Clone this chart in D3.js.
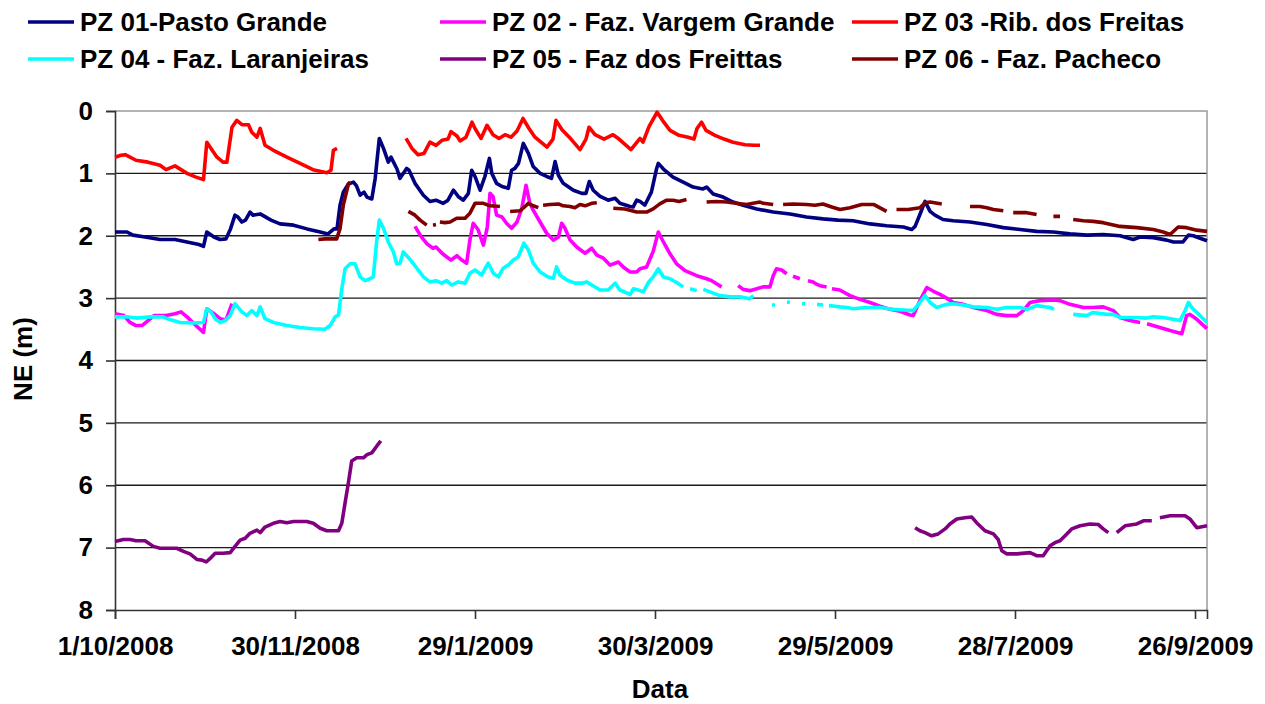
<!DOCTYPE html>
<html>
<head>
<meta charset="utf-8">
<script src="https://cdn.jsdelivr.net/npm/d3@7"></script>
<style>
  body { margin: 0; background: #fff; }
  svg { display: block; font-family: "Liberation Sans", Arial, sans-serif; font-weight: bold; }
</style>
</head>
<body>
<svg id="chart" width="1265" height="704"></svg>
<script>
// Days counted from 1/10/2008, NE (m) values; null = missing reading (gap)
const startDate = new Date(2008, 9, 1);
const tickDays = [0, 60, 120, 180, 240, 300, 360];
const yTicks = [0, 1, 2, 3, 4, 5, 6, 7, 8];

const seriesNames = ["PZ 01-Pasto Grande", "PZ 02 - Faz. Vargem Grande", "PZ 03 -Rib. dos Freitas",
  "PZ 04 - Faz. Laranjeiras", "PZ 05 - Faz dos Freittas", "PZ 06 - Faz. Pacheco"];
const seriesColors = ["#000080", "#ff00ff", "#ff0000", "#00ffff", "#800080", "#800000"];

const pz01 = [[0,1.94],[4,1.94],[6,1.99],[10,2.02],[15,2.06],[20,2.06],[24,2.1],[28,2.14],[29.5,2.17],[30.6,1.94],[33,2.02],[35,2.06],[37,2.05],[38.5,1.89],[40,1.67],[41,1.7],[42.3,1.78],[43.5,1.75],[45,1.62],[46,1.67],[48.4,1.65],[52,1.75],[55,1.81],[59.5,1.83],[64,1.89],[68.4,1.94],[71,1.97],[73,1.89],[74,1.89],[75,1.51],[76.1,1.3],[77.8,1.17],[79.5,1.14],[80.5,1.2],[81.7,1.35],[83,1.3],[84,1.38],[85.6,1.41],[86.7,1.09],[88.1,0.44],[89.5,0.6],[91.1,0.82],[92,0.74],[94,0.93],[95,1.08],[97.2,0.92],[98,0.95],[100,1.16],[102.8,1.35],[105,1.45],[107,1.43],[109.4,1.48],[111,1.43],[112.8,1.27],[114.4,1.37],[116.1,1.43],[117.8,1.32],[118.9,0.95],[120,1.05],[121.7,1.27],[123.3,1.05],[124.8,0.76],[125.6,1.0],[127.2,1.16],[129,1.21],[131.1,1.24],[132.2,0.95],[133.3,0.92],[134.5,0.84],[136.1,0.52],[137.8,0.68],[139.4,0.89],[141.7,1.0],[143.9,1.05],[145.5,1.08],[146.7,0.81],[147.8,1.03],[149.4,1.16],[152.8,1.27],[155.6,1.32],[157,1.32],[158.1,1.13],[159.4,1.27],[161.7,1.37],[164.4,1.43],[166.7,1.4],[168.3,1.48],[171.7,1.53],[172.7,1.54],[173.9,1.43],[175,1.45],[176.6,1.51],[178.8,1.3],[180.5,0.93],[181.1,0.84],[182.8,0.93],[186,1.06],[189.4,1.14],[192.7,1.22],[196,1.25],[197.2,1.22],[199.4,1.33],[202.7,1.38],[206,1.46],[209.4,1.51],[213.9,1.57],[219.4,1.62],[225,1.65],[230.5,1.7],[236,1.73],[241,1.75],[246,1.76],[251.7,1.81],[257.2,1.84],[262.8,1.86],[265.6,1.9],[266.7,1.85],[268.3,1.66],[270,1.45],[271.7,1.61],[273.3,1.67],[276,1.74],[279.4,1.76],[285,1.78],[290.6,1.82],[296.1,1.87],[301.7,1.9],[307.2,1.93],[312.8,1.94],[318.3,1.97],[323.9,1.99],[329.4,1.98],[335,2.0],[339.4,2.06],[341.7,2.02],[346.1,2.03],[350.6,2.07],[352.8,2.1],[356,2.1],[357.8,1.99],[359.4,2.0],[361.7,2.04],[364,2.08]];

const pz02 = [[0,3.25],[3,3.28],[5,3.39],[7,3.44],[9,3.44],[11,3.36],[13,3.28],[17,3.28],[20,3.25],[22,3.22],[24,3.3],[27,3.44],[29.5,3.55],[30.6,3.17],[33,3.25],[35,3.33],[37,3.35],[39,3.09],[40,null],
  [100,1.85],[102,2.01],[104,2.13],[106,2.2],[107,2.18],[109,2.28],[110.6,2.34],[112,2.39],[114,2.32],[115.6,2.39],[117.2,2.44],[118.3,2.07],[119.4,1.8],[121,1.9],[122.8,2.15],[124.1,1.86],[125,1.32],[126,1.37],[127.2,1.67],[129,1.7],[130.5,1.8],[132.2,1.88],[134,1.78],[135.6,1.56],[137,1.19],[138.3,1.48],[139.4,1.59],[141.7,1.78],[143.9,1.96],[146.1,2.07],[147.8,2.02],[148.9,1.8],[150,1.88],[151.7,2.07],[153.9,2.18],[156.7,2.28],[158.9,2.2],[160.6,2.31],[162.8,2.36],[165,2.47],[167.8,2.42],[169.4,2.5],[171.7,2.58],[173.9,2.58],[175,2.53],[177.2,2.5],[179.4,2.25],[181.1,1.94],[182.8,2.1],[185,2.29],[187.2,2.45],[190,2.56],[193.9,2.64],[197.2,2.69],[198.9,2.72],[200.5,2.77],[202.2,2.82],[204,null],
  [207.7,2.8],[209.4,2.86],[211.6,2.88],[213.9,2.85],[216,2.82],[218.3,2.82],[219.4,2.64],[220.5,2.53],[222.2,2.55],[223.9,2.61],[225,null],[226,2.65],[228.3,2.69],[230,null],[231,2.72],[232.7,2.74],[234,2.78],[235,2.8],[237.2,2.82],[238,null],[239,2.85],[241.6,2.87],[245,2.96],[248.3,3.02],[251.7,3.07],[255,3.13],[258.3,3.18],[261.7,3.21],[265,3.27],[266.1,3.28],[268.3,3.04],[270.6,2.83],[272.8,2.89],[275,2.94],[277.2,3.0],[279.4,3.07],[282.8,3.1],[286.1,3.15],[290.6,3.2],[293.9,3.26],[297.2,3.28],[300.6,3.28],[302.8,3.2],[305,3.07],[308.3,3.04],[312.8,3.03],[315,3.04],[318.3,3.1],[322.8,3.15],[326,3.15],[329.4,3.14],[332.8,3.2],[335,3.31],[338.3,3.36],[341.7,3.39],[343,null],[344,3.41],[348.3,3.47],[351.7,3.52],[355.6,3.57],[357.2,3.28],[358.3,3.26],[360.6,3.34],[364,3.49]];

const pz03 = [[0,0.74],[2,0.71],[3.4,0.7],[7,0.79],[11,0.82],[15,0.87],[17,0.94],[20,0.88],[24,1.0],[27,1.06],[29.5,1.1],[30.6,0.5],[32,0.6],[34,0.74],[36,0.82],[37.3,0.82],[39,0.26],[40.6,0.15],[42.3,0.22],[44.5,0.22],[45.6,0.34],[47.3,0.42],[48.4,0.28],[50,0.55],[52.8,0.63],[57.3,0.74],[61.7,0.84],[66,0.94],[70.6,0.99],[72,0.95],[72.8,0.63],[74,0.6],[75,null],
  [97,0.44],[99,0.6],[101,0.7],[103,0.68],[105,0.5],[107,0.55],[109,0.47],[111,0.45],[112,0.33],[114,0.4],[115,0.48],[117,0.42],[119,0.18],[120,0.28],[122,0.44],[124,0.23],[126,0.38],[128,0.44],[130,0.38],[132,0.42],[134,0.32],[136,0.12],[138,0.28],[140,0.42],[142,0.5],[144,0.58],[146,0.45],[147,0.15],[149,0.3],[152,0.45],[155,0.62],[157,0.45],[158,0.26],[160,0.38],[163,0.45],[166,0.38],[168,0.45],[172,0.62],[175,0.44],[176,0.5],[178,0.25],[180.7,0.02],[182.5,0.15],[185,0.31],[188,0.39],[191,0.42],[193,0.45],[194,0.28],[195.5,0.18],[197,0.31],[200,0.39],[203,0.45],[206,0.5],[210,0.54],[213,0.55],[215,0.55]];

const pz04 = [[0,3.3],[4,3.3],[7,3.32],[12,3.3],[16,3.3],[18,3.34],[21.7,3.39],[26,3.4],[29.5,3.39],[30.6,3.17],[32,3.22],[33.4,3.33],[35,3.39],[36.7,3.36],[38.4,3.28],[40,3.09],[42.3,3.22],[44,3.28],[45.6,3.2],[47.3,3.28],[48.4,3.14],[50,3.33],[52.8,3.39],[57.3,3.44],[61.7,3.47],[66,3.49],[70,3.5],[71.7,3.44],[73.4,3.3],[74.5,3.27],[75.6,2.85],[76.7,2.53],[78.4,2.45],[80,2.45],[81.7,2.66],[83.4,2.72],[85,2.69],[86.1,2.66],[87.2,2.1],[88.1,1.75],[89.5,1.88],[91.1,2.1],[92.8,2.26],[93.9,2.45],[95,2.44],[96.1,2.26],[98,2.36],[100.6,2.52],[102.8,2.66],[105,2.74],[107,2.72],[108.9,2.76],[110.6,2.72],[112.2,2.79],[114.4,2.74],[116.7,2.76],[118.3,2.6],[120,2.55],[122.2,2.63],[124.4,2.44],[126.1,2.6],[127.8,2.66],[129.4,2.52],[131.1,2.47],[132.8,2.39],[134.4,2.34],[136.3,2.12],[137.8,2.23],[139.4,2.44],[141.7,2.58],[144.4,2.66],[146.1,2.68],[147.2,2.5],[148.3,2.63],[150.6,2.71],[153.3,2.76],[155.6,2.76],[157.2,2.74],[158.9,2.79],[161.7,2.87],[164.4,2.87],[166.7,2.76],[168.3,2.87],[171.7,2.94],[172.8,2.85],[174.4,2.87],[176.1,2.9],[177.8,2.75],[179.4,2.66],[181.1,2.53],[182.8,2.66],[185,2.69],[187.2,2.75],[189.4,2.82],[190.5,null],[191.7,2.85],[193.9,2.88],[195,null],[196.1,2.86],[198.3,2.9],[201.6,2.96],[205,2.98],[208.3,2.98],[211.6,3.01],[212.8,2.96],[213.5,null],
  [219,3.11],[220,3.11],[220.5,null],[224,3.06],[225,3.07],[225.5,null],[229,3.09],[230,3.09],[230.5,null],[234,3.1],[236,3.11],[237,null],[238,3.12],[240,3.13],[241.6,3.14],[244,3.15],[246,3.17],[250.6,3.15],[255,3.15],[259.4,3.18],[263,3.19],[266.1,3.2],[268.3,3.07],[270,2.96],[271.7,3.07],[273.9,3.15],[277.2,3.1],[279.4,3.09],[282.8,3.11],[286.1,3.14],[290.6,3.15],[293.9,3.18],[297.2,3.15],[301.7,3.15],[304,3.18],[307.2,3.12],[311.7,3.15],[313,3.18],[314,null],
  [319.4,3.26],[323.9,3.28],[326,3.23],[330.6,3.26],[332.8,3.26],[335,3.31],[339.4,3.31],[343.9,3.32],[346.1,3.3],[349.4,3.31],[352.8,3.34],[355,3.36],[356.7,3.2],[357.8,3.07],[358.9,3.15],[360.6,3.23],[364,3.39]];

const pz05 = [[0,6.9],[2.8,6.87],[5,6.87],[7,6.89],[10,6.89],[12.8,6.98],[15,7.01],[18,7.01],[20.6,7.01],[22.8,7.06],[25,7.1],[27.3,7.19],[29,7.2],[30.4,7.23],[32,7.16],[33.4,7.09],[36,7.09],[38.4,7.08],[40,6.98],[41.7,6.88],[43.4,6.85],[45,6.77],[47.3,6.72],[48.4,6.76],[50,6.67],[52.8,6.61],[55,6.58],[57.3,6.6],[59.5,6.58],[63.9,6.58],[66.1,6.61],[68.4,6.69],[70.6,6.73],[74.5,6.73],[75.6,6.61],[76.7,6.28],[77.8,5.96],[78.9,5.61],[80.6,5.56],[82.8,5.56],[84,5.51],[85.6,5.48],[87.3,5.37],[88.6,5.29],[90,null],
  [266.7,6.68],[268.3,6.73],[270,6.76],[272.2,6.81],[274.4,6.78],[276.7,6.7],[278.3,6.62],[280.6,6.54],[283.3,6.52],[285.6,6.51],[287.2,6.6],[290,6.73],[292.8,6.78],[294.4,6.87],[295.6,7.05],[297.2,7.1],[300.6,7.1],[305,7.08],[307.2,7.13],[309.4,7.13],[311.7,6.97],[313.3,6.92],[315,6.89],[316.7,6.81],[318.9,6.7],[321.7,6.65],[325,6.62],[327.8,6.63],[329.4,6.7],[331.1,6.76],[332,null],[333.9,6.76],[336.7,6.65],[340.6,6.62],[342.8,6.57],[345.6,6.57],[346.5,null],[348.3,6.52],[351.7,6.49],[356.7,6.49],[358.3,6.54],[360.6,6.68],[364,6.65]];

const pz06 = [[67.8,2.06],[70,2.05],[73.9,2.05],[75,1.89],[76.1,1.51],[77.8,1.17],[78.4,1.14],[79,null],
  [97.8,1.61],[100,1.67],[101.7,1.75],[103.9,1.83],[104.5,null],[106,1.83],[107,1.82],[107.5,null],[108.3,1.78],[110,1.79],[111.7,1.78],[113.9,1.72],[116.7,1.72],[118.3,1.64],[120,1.48],[122.8,1.48],[125,1.52],[128.3,1.53],[129,null],[131.7,1.61],[135,1.6],[136.7,1.53],[137.8,1.48],[139.4,1.52],[141.1,1.55],[141.8,null],[142.7,1.51],[145,1.5],[147.8,1.49],[149.4,1.52],[151.7,1.53],[153.3,1.55],[155,1.5],[156.7,1.52],[158.9,1.48],[160.6,1.47],[161.5,null],
  [166.1,1.56],[170,1.57],[173.9,1.62],[177.2,1.62],[179.4,1.57],[181.6,1.49],[183.9,1.43],[186,1.43],[188,1.45],[190.5,1.42],[191.5,null],[197.2,1.46],[200.5,1.45],[203.9,1.46],[207,1.48],[210.5,1.5],[215,1.46],[216.1,1.48],[219.4,1.5],[220.5,null],[222.7,1.5],[226,1.49],[230.5,1.5],[233.3,1.51],[236,1.49],[238.9,1.54],[241.7,1.58],[245,1.55],[248.9,1.5],[253,1.5],[257.2,1.61],[258.5,null],[260.5,1.58],[264.4,1.58],[268.3,1.55],[270,1.47],[271.7,1.46],[275.6,1.49],[276.5,null],
  [285,1.53],[288.3,1.53],[290.6,1.55],[292.8,1.58],[296.1,1.6],[297,null],[299.4,1.63],[303.9,1.63],[307.2,1.66],[308,null],[312.8,1.69],[315,1.69],[316,null],[319.4,1.74],[322.8,1.76],[326.1,1.77],[329.4,1.79],[335,1.85],[340.6,1.87],[346.1,1.9],[349.4,1.94],[351.7,1.98],[354.4,1.86],[357.2,1.87],[360.6,1.91],[364,1.93]];

const allSeries = [pz01, pz02, pz03, pz04, pz05, pz06];

// Plot area
let plot = { left: 115, right: 1207, top: 111, bottom: 610 };

let svg = d3.select("#chart");

// turns a day offset into a real date
function dayToDate(d) {
  return new Date(startDate.getTime() + d * 86400000);
}

let x = d3.scaleTime()
  .domain([startDate, dayToDate(364)])
  .range([plot.left, plot.right]);

let y = d3.scaleLinear()
  .domain([0, 8])
  .range([plot.top, plot.bottom]);

// Gridlines (skip the top one, it is the gray border)
svg.append("g")
  .selectAll("line")
  .data(yTicks.slice(1, 8))
  .enter()
  .append("line")
  .attr("x1", plot.left)
  .attr("x2", plot.right)
  .attr("y1", d => y(d))
  .attr("y2", d => y(d))
  .attr("stroke", "#1a1a1a")
  .attr("stroke-width", 1.4);

// Gray border top and right
svg.append("path")
  .attr("d", `M${plot.left},${plot.top}H${plot.right}V${plot.bottom}`)
  .attr("fill", "none")
  .attr("stroke", "#9a9a9a")
  .attr("stroke-width", 1.5);

// Y axis
let yAxis = svg.append("g")
  .attr("transform", `translate(${plot.left},0)`)
  .call(d3.axisLeft(y).tickValues(yTicks).tickSize(9).tickPadding(13).tickFormat(d3.format("d")));

// X axis
let xAxis = svg.append("g")
  .attr("transform", `translate(0,${plot.bottom})`)
  .call(d3.axisBottom(x)
    .tickValues(tickDays.map(dayToDate))
    .tickSize(9)
    .tickPadding(18)
    .tickFormat(d3.timeFormat("%-d/%-m/%Y")));

[yAxis, xAxis].forEach(function(a) {
  a.select(".domain").attr("stroke", "#333").attr("stroke-width", 1.6);
  a.selectAll(".tick line").attr("stroke", "#333").attr("stroke-width", 1.6);
  a.selectAll(".tick text")
    .attr("fill", "#000")
    .style("font-family", "'Liberation Sans', Arial, sans-serif")
    .style("font-weight", "bold")
    .style("font-size", "26px");
});

// Series lines
let line = d3.line()
  .defined(d => d[1] !== null)
  .x(d => x(dayToDate(d[0])))
  .y(d => y(d[1]));

allSeries.forEach(function(s, i) {
  svg.append("path")
    .datum(s)
    .attr("fill", "none")
    .attr("stroke", seriesColors[i])
    .attr("stroke-width", 3.6)
    .attr("stroke-linejoin", "round")
    .attr("d", line);
});

// Legend: 3 columns, 2 rows
let legendCols = [28, 440, 852];
let legendRows = [22, 59];
seriesNames.forEach(function(name, i) {
  let lx = legendCols[i % 3];
  let ly = legendRows[Math.floor(i / 3)];
  svg.append("line")
    .attr("x1", lx)
    .attr("x2", lx + 46)
    .attr("y1", ly)
    .attr("y2", ly)
    .attr("stroke", seriesColors[i])
    .attr("stroke-width", 3.6);
  svg.append("text")
    .attr("x", lx + 52)
    .attr("y", ly + 9)
    .style("font-size", "26px")
    .text(name);
});

// Axis titles
svg.append("text")
  .attr("x", 660)
  .attr("y", 698)
  .attr("text-anchor", "middle")
  .style("font-size", "26px")
  .text("Data");

svg.append("text")
  .attr("transform", "translate(32,359) rotate(-90)")
  .attr("text-anchor", "middle")
  .style("font-size", "26px")
  .text("NE (m)");
</script>
</body>
</html>
